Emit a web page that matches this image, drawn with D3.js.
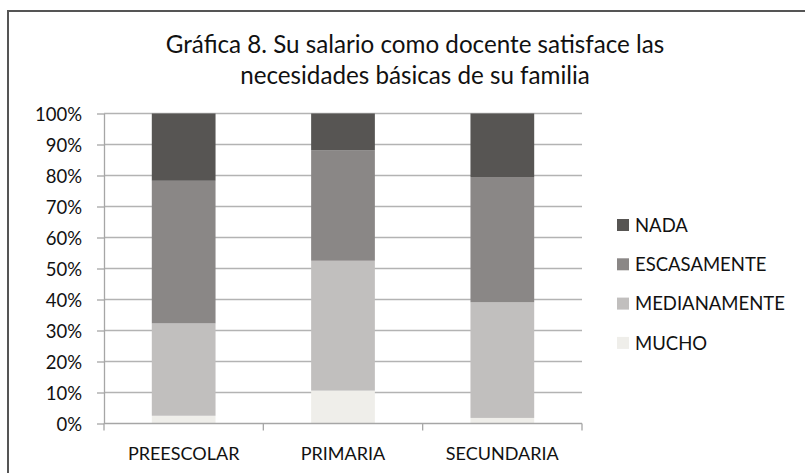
<!DOCTYPE html>
<html><head><meta charset="utf-8">
<script src="https://cdn.jsdelivr.net/npm/d3@7"></script>
<style>
body{margin:0;background:#fff;}
text{font-family:Lato,"Open Sans",sans-serif;fill:#111;}
</style></head>
<body><svg id="c" width="805" height="473"></svg>
<script>
const categories = ["PREESCOLAR","PRIMARIA","SECUNDARIA"];
const seriesNames = ["MUCHO","MEDIANAMENTE","ESCASAMENTE","NADA"];
const mucho = [2.5, 10.6, 1.8];
const medianamente = [29.8, 41.9, 37.3];
const escasamente = [46.0, 35.6, 40.4];
const nada = [21.7, 11.9, 20.5];
const yTicks = [0,10,20,30,40,50,60,70,80,90,100];
const colors = ["#efeeea","#c1bfbe","#8a8786","#575553"];
const titleLines = ["Gráfica 8. Su salario como docente satisface las","necesidades básicas de su familia"];

const svg = d3.select("#c");
svg.append("rect").attr("x",8).attr("y",11).attr("width",820).attr("height",480)
  .attr("fill","#fff").attr("stroke","#555").attr("stroke-width",2);

const pLeft=104, pRight=582, pTop=113.5, pBottom=423.5;
const x = d3.scaleBand().domain(categories).range([pLeft,pRight]).paddingInner(0.6).paddingOuter(0.3);
const y = d3.scaleLinear().domain([0,100]).range([pBottom,pTop]);

// grid
svg.append("g").selectAll("line").data(yTicks.filter(d=>d>0)).join("line")
  .attr("x1",pLeft).attr("x2",pRight).attr("y1",d=>y(d)).attr("y2",d=>y(d))
  .attr("stroke","#b3b3b3").attr("stroke-width",1.3);

const table = categories.map((c,i)=>({cat:c, MUCHO:mucho[i], MEDIANAMENTE:medianamente[i], ESCASAMENTE:escasamente[i], NADA:nada[i]}));
const stacked = d3.stack().keys(seriesNames)(table);
svg.append("g").selectAll("g").data(stacked).join("g").attr("fill",(d,i)=>colors[i])
  .selectAll("rect").data(d=>d).join("rect")
  .attr("x",d=>x(d.data.cat)).attr("width",x.bandwidth())
  .attr("y",d=>y(d[1])).attr("height",d=>y(d[0])-y(d[1]));

// y axis
const ya = svg.append("g").attr("transform",`translate(${pLeft},0)`)
  .call(d3.axisLeft(y).tickValues(yTicks).tickFormat(d=>d+"%").tickSize(7).tickSizeOuter(0));
ya.select(".domain").attr("stroke","#a6a6a6").attr("stroke-width",1.3);
ya.selectAll(".tick line").attr("stroke","#a6a6a6").attr("stroke-width",1.3);
ya.selectAll("text").attr("font-size",18.5).attr("x",-22).attr("dy","0.36em").attr("fill","#111")
  .style("font-family","Lato,'Open Sans',sans-serif");

// x axis
const xa = svg.append("g").attr("transform",`translate(0,${pBottom})`);
xa.append("line").attr("x1",pLeft).attr("x2",pRight).attr("stroke","#a6a6a6").attr("stroke-width",1.3);
const bounds = [pLeft].concat(categories.map((c,i)=>pLeft + (pRight-pLeft)/categories.length*(i+1)));
xa.selectAll("line.t").data(bounds).join("line").attr("class","t")
  .attr("x1",d=>d).attr("x2",d=>d).attr("y1",0).attr("y2",7).attr("stroke","#a6a6a6").attr("stroke-width",1.3);
xa.selectAll("text").data(categories).join("text")
  .attr("x",d=>x(d)+x.bandwidth()/2).attr("y",36).attr("text-anchor","middle").attr("font-size",18).text(d=>d);

// title
svg.append("g").selectAll("text").data(titleLines).join("text")
  .attr("x",415).attr("y",(d,i)=>53+i*31).attr("text-anchor","middle").attr("font-size",24.2).text(d=>d);

// legend
const legendOrder = ["NADA","ESCASAMENTE","MEDIANAMENTE","MUCHO"];
const lg = svg.append("g").selectAll("g").data(legendOrder).join("g")
  .attr("transform",(d,i)=>`translate(617,${225+i*39.3})`);
lg.append("rect").attr("x",0).attr("y",-6).attr("width",12).attr("height",12)
  .attr("fill",d=>colors[seriesNames.indexOf(d)]);
lg.append("text").attr("x",18).attr("dy","0.36em").attr("font-size",18.5).text(d=>d);
</script></body></html>
